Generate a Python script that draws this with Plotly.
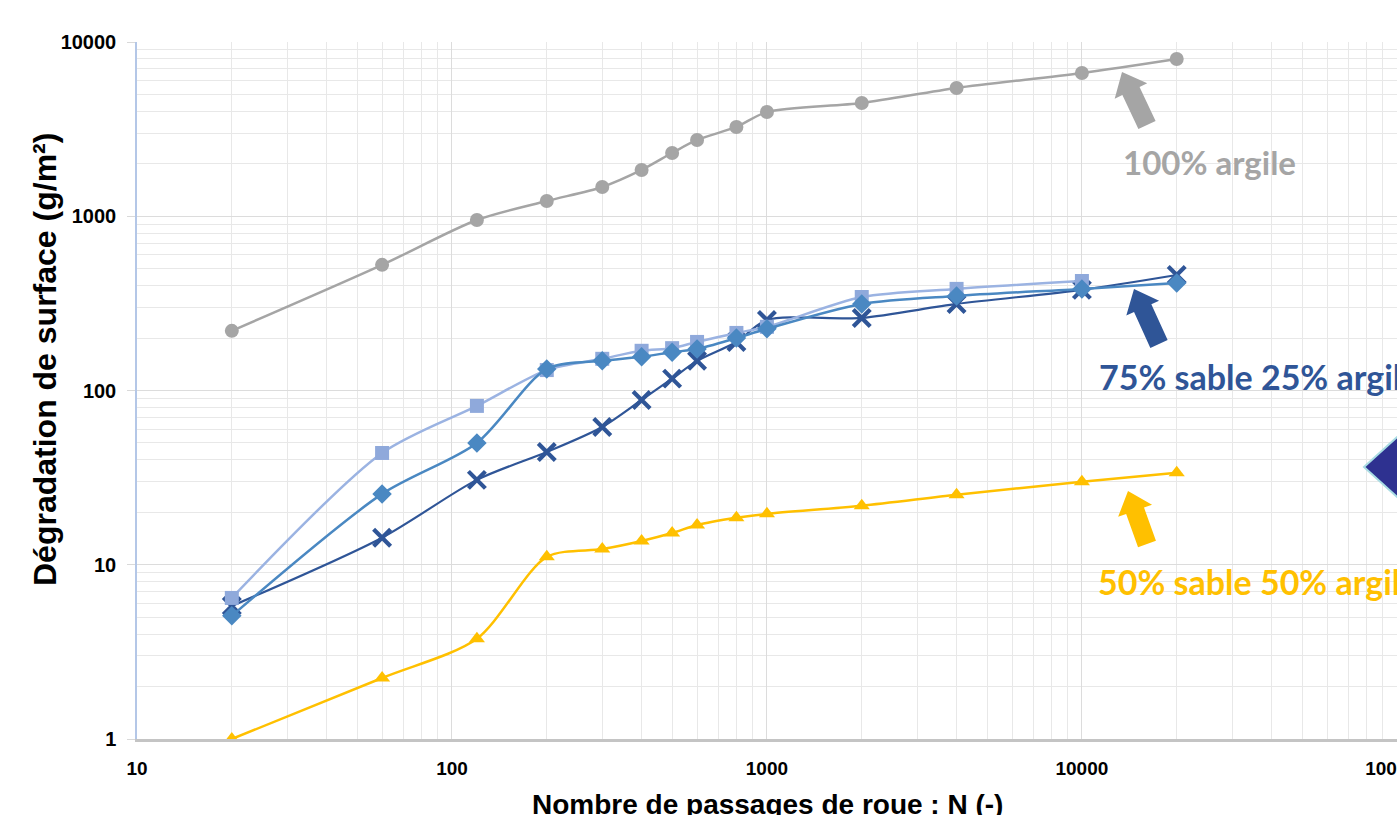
import math
import plotly.graph_objects as go

# ---------------- data ----------------
N_all = [20, 60, 120, 200, 300, 400, 500, 600, 800, 1000, 2000, 4000, 10000, 20000]
N_sq = [20, 60, 120, 200, 300, 400, 500, 600, 800, 1000, 2000, 4000, 10000]

argile_100 = [220, 526, 952, 1224, 1472, 1844, 2308, 2740, 3254, 3966, 4467, 5448, 6637, 7990]
sable75_sq = [6.45, 43.8, 81.6, 131, 152, 169, 175, 190, 214, 232, 344, 383, 425]
sable75_di = [5.09, 25.5, 50, 133, 148, 156, 166, 173, 200, 226, 314, 349, 383, 414]
sable75_x = [5.8, 14.3, 30.7, 44.4, 61.8, 88.3, 117, 148, 190, 254, 261, 314, 378, 460]
sable50 = [1.0, 2.24, 3.76, 11.1, 12.3, 13.7, 15.2, 16.9, 18.6, 19.6, 21.8, 25.2, 29.9, 33.7]

x_tickvals = [10, 100, 1000, 10000, 100000]
x_ticktext = ["10", "100", "1000", "10000", "100000"]
y_tickvals = [1, 10, 100, 1000, 10000]
y_ticktext = ["1", "10", "100", "1000", "10000"]

label_100 = "100% argile"
label_75 = "75% sable 25% argile"
label_50 = "50% sable 50% argile"
x_title = "Nombre de passages de roue : N (-)"
y_title = "Dégradation de surface (g/m²)"

# ---------------- layout geometry ----------------
W, H = 1397, 815
ML, MR, MT, MB = 137, 0, 42, 76
PW, PH = W - ML - MR, H - MT - MB


def px(xp):
    return (xp - ML) / PW


def py(yp):
    return (H - MB - yp) / PH


def block_arrow(tip, tail, w, hw, hl):
    tx, ty = tip
    sx, sy = tail
    dx, dy = tx - sx, ty - sy
    L = math.hypot(dx, dy)
    ux, uy = dx / L, dy / L
    nx, ny = -uy, ux
    bx, by = tx - ux * hl, ty - uy * hl
    pts = [
        (sx + nx * w, sy + ny * w),
        (bx + nx * w, by + ny * w),
        (bx + nx * hw, by + ny * hw),
        (tx, ty),
        (bx - nx * hw, by - ny * hw),
        (bx - nx * w, by - ny * w),
        (sx - nx * w, sy - ny * w),
    ]
    return "M " + " L ".join(f"{px(a):.5f},{py(b):.5f}" for a, b in pts) + " Z"


minor_x = [k * 10 ** e for e in range(1, 5) for k in range(2, 10)]
minor_y = [k * 10 ** e for e in range(0, 4) for k in range(2, 10)]

fig = go.Figure()

C_GREY = "#A5A5A5"
C_SQ = "#8FA9DB"
C_DI = "#4A88C2"
C_X = "#2F5597"
C_Y = "#FFC000"

fig.add_trace(go.Scatter(
    x=N_all, y=sable75_x, mode="lines+markers",
    line=dict(color=C_X, width=2.2, shape="spline", smoothing=0.8),
    marker=dict(symbol="x-thin", size=17, line=dict(color=C_X, width=4.2)),
))
fig.add_trace(go.Scatter(
    x=N_sq, y=sable75_sq, mode="lines+markers",
    line=dict(color="#9BB3E2", width=2.5, shape="spline", smoothing=0.8),
    marker=dict(symbol="square", size=14, color=C_SQ),
))
fig.add_trace(go.Scatter(
    x=N_all, y=sable75_di, mode="lines+markers",
    line=dict(color=C_DI, width=2.5, shape="spline", smoothing=0.8),
    marker=dict(symbol="diamond", size=15, color=C_DI),
))
fig.add_trace(go.Scatter(
    x=N_all, y=sable50, mode="lines+markers",
    line=dict(color=C_Y, width=2.5, shape="spline", smoothing=0.8),
    marker=dict(symbol="triangle-up", size=14, color=C_Y),
))
fig.add_trace(go.Scatter(
    x=N_all, y=argile_100, mode="lines+markers",
    line=dict(color=C_GREY, width=2.5, shape="spline", smoothing=0.8),
    marker=dict(symbol="circle", size=14, color=C_GREY),
))

fig.update_xaxes(
    type="log", range=[1, 5.0004], automargin=False,
    tickmode="array", tickvals=x_tickvals, ticktext=x_ticktext,
    tickfont=dict(family="Liberation Sans Narrow, Liberation Sans, Arial", size=19, color="#000000", weight="bold"),
    ticks="", ticklabelstandoff=10, ticklabeloverflow="allow",
    showgrid=True, gridcolor="#DCDCDC", gridwidth=1,
    minor=dict(tickmode="array", tickvals=minor_x, showgrid=True, gridcolor="#E8E8E8", gridwidth=1, ticks=""),
    showline=True, linecolor="#C4C4C4", linewidth=2.5,
    zeroline=False,
)
fig.update_yaxes(
    type="log", range=[0, 4], automargin=False,
    tickmode="array", tickvals=y_tickvals, ticktext=y_ticktext,
    tickfont=dict(family="Liberation Sans, Arial", size=20, color="#000000", weight="bold"),
    ticks="outside", ticklen=8, tickcolor="#D9D9D9", ticklabelstandoff=7,
    showgrid=True, gridcolor="#DCDCDC", gridwidth=1,
    minor=dict(tickmode="array", tickvals=minor_y, showgrid=True, gridcolor="#E8E8E8", gridwidth=1, ticks=""),
    showline=True, linecolor="#B4C7E7", linewidth=1.5,
    zeroline=False,
)

shapes = [
    dict(type="path", xref="paper", yref="paper",
         path=block_arrow((1122, 72), (1147, 125), 9.5, 18, 21),
         fillcolor=C_GREY, line=dict(width=0)),
    dict(type="path", xref="paper", yref="paper",
         path=block_arrow((1134, 289), (1159, 344), 9.5, 18, 21),
         fillcolor=C_X, line=dict(width=0)),
    dict(type="path", xref="paper", yref="paper",
         path=block_arrow((1128, 491), (1147, 544), 9.5, 18, 21),
         fillcolor=C_Y, line=dict(width=0)),
    dict(type="path", xref="paper", yref="paper",
         path=("M {:.5f},{:.5f} L {:.5f},{:.5f} L {:.5f},{:.5f} L {:.5f},{:.5f} Z").format(
             px(1364), py(467), px(1438), py(400), px(1512), py(467), px(1438), py(534)),
         fillcolor="#2E3190", line=dict(color="#A9DCE3", width=2)),
]

LBL_FONT = "Lato, Open Sans, sans-serif"
annotations = [
    dict(text=label_100, x=px(1209), y=py(162), xref="paper", yref="paper",
         xanchor="center", yanchor="middle", showarrow=False,
         font=dict(family=LBL_FONT, size=33, color=C_GREY, weight="bold")),
    dict(text=label_75, x=px(1097), y=py(376), xref="paper", yref="paper",
         xanchor="left", yanchor="middle", showarrow=False,
         font=dict(family=LBL_FONT, size=34, color=C_X, weight="bold")),
    dict(text=label_50, x=px(1096), y=py(581), xref="paper", yref="paper",
         xanchor="left", yanchor="middle", showarrow=False,
         font=dict(family=LBL_FONT, size=34, color=C_Y, weight="bold")),
    dict(text=x_title, x=px(767), y=py(804), xref="paper", yref="paper",
         xanchor="center", yanchor="middle", showarrow=False,
         font=dict(family="Liberation Sans, Arial", size=28, color="#000000", weight="bold")),
    dict(text=y_title, x=px(45), y=py(360), xref="paper", yref="paper",
         xanchor="center", yanchor="middle", showarrow=False, textangle=-90,
         font=dict(family="Liberation Sans, Arial", size=32, color="#000000", weight="bold")),
]

fig.update_layout(
    width=W, height=H,
    margin=dict(l=ML, r=MR, t=MT, b=MB, pad=0, autoexpand=False),
    paper_bgcolor="white", plot_bgcolor="white",
    showlegend=False,
    shapes=shapes, annotations=annotations,
)

fig.write_html(
    "out.html",
    config={"displayModeBar": False},
    post_script="document.body.style.margin='0';document.body.style.overflow='hidden';",
)
